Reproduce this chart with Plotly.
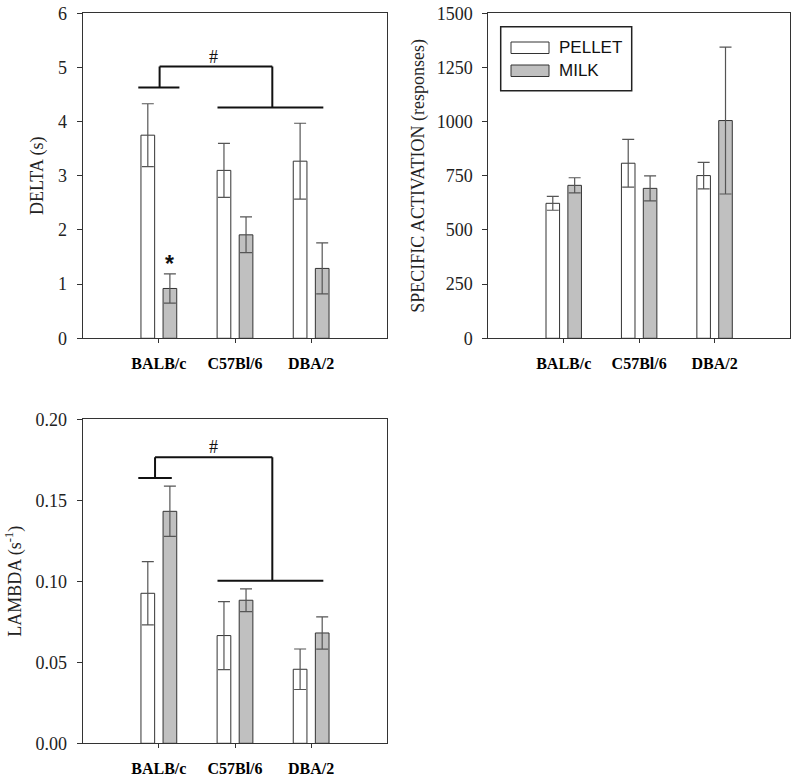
import plotly.graph_objects as go

W, H = 800, 782

strains = ["BALB/c", "C57Bl/6", "DBA/2"]
series_names = ["PELLET", "MILK"]

delta_pellet = [3.75, 3.10, 3.27]
delta_pellet_err = [0.58, 0.50, 0.70]
delta_milk = [0.92, 1.91, 1.29]
delta_milk_err = [0.27, 0.33, 0.47]

act_pellet = [623, 808, 751]
act_pellet_err = [32, 110, 61]
act_milk = [706, 692, 1005]
act_milk_err = [35, 58, 339]

lambda_pellet = [0.0926, 0.0665, 0.0457]
lambda_pellet_err = [0.0195, 0.021, 0.0125]
lambda_milk = [0.1432, 0.0883, 0.0681]
lambda_milk_err = [0.0155, 0.007, 0.010]

delta_ticks = [0, 1, 2, 3, 4, 5, 6]
act_ticks = [0, 250, 500, 750, 1000, 1250, 1500]
lambda_ticks = [0.0, 0.05, 0.10, 0.15, 0.20]

SERIF = "Liberation Serif, Times New Roman, serif"
SANS = "Liberation Sans, Arial, sans-serif"
GRAY = "#c0c0c0"
EDGE = "#333333"
ERRC = "#555555"


def px_x(p):
    return p / W


def px_y(p):
    return 1 - p / H


fig = go.Figure()

panels = [
    ("x", "y", delta_pellet, delta_pellet_err, delta_milk, delta_milk_err),
    ("x2", "y2", act_pellet, act_pellet_err, act_milk, act_milk_err),
    ("x3", "y3", lambda_pellet, lambda_pellet_err, lambda_milk, lambda_milk_err),
]
for xa, ya, pv, pe, mv, me in panels:
    fig.add_trace(go.Bar(
        x=strains, y=pv, name=series_names[0], xaxis=xa, yaxis=ya,
        marker=dict(color="white", line=dict(color=EDGE, width=1)),
        error_y=dict(type="data", array=pe, visible=True, color=ERRC, thickness=1.2, width=6),
        showlegend=False,
    ))
    fig.add_trace(go.Bar(
        x=strains, y=mv, name=series_names[1], xaxis=xa, yaxis=ya,
        marker=dict(color=GRAY, line=dict(color=EDGE, width=1)),
        error_y=dict(type="data", array=me, visible=True, color=ERRC, thickness=1.2, width=6),
        showlegend=False,
    ))

common = dict(showline=True, linecolor=EDGE, linewidth=1, mirror=True,
              showgrid=False, zeroline=False, ticks="outside", tickcolor=EDGE,
              automargin=False, ticklabeloverflow="allow")

xcommon = dict(common, type="category", range=[-1, 3], ticklen=4,
               tickfont=dict(family=SERIF, size=16, color="black", weight="bold"),
               ticklabelstandoff=6)

ycommon = dict(common, ticklen=5,
               tickfont=dict(family=SERIF, size=18, color="#222"),
               ticklabelstandoff=6)

dom_x_left = [px_x(82.7), px_x(387.3)]
dom_x_right = [px_x(488.3), px_x(790)]
dom_y_top = [px_y(338.3), px_y(13.3)]
dom_y_bot = [px_y(743.3), px_y(419.3)]

fig.update_layout(
    width=W, height=H,
    margin=dict(l=0, r=0, t=0, b=0),
    paper_bgcolor="white", plot_bgcolor="white",
    barmode="group", bargap=0.42, bargroupgap=0.38,
    showlegend=False,
    xaxis=dict(xcommon, domain=dom_x_left, anchor="y"),
    yaxis=dict(ycommon, domain=dom_y_top, anchor="x", range=[0, 6],
               tickvals=delta_ticks,
               title=dict(text="DELTA (s)", font=dict(family=SERIF, size=18, color="#222"), standoff=9)),
    xaxis2=dict(xcommon, domain=dom_x_right, anchor="y2"),
    yaxis2=dict(ycommon, domain=dom_y_top, anchor="x2", range=[0, 1500],
                tickvals=act_ticks,
                title=dict(text="SPECIFIC ACTIVATION (responses)", font=dict(family=SERIF, size=18, color="#222"), standoff=7)),
    xaxis3=dict(xcommon, domain=dom_x_left, anchor="y3"),
    yaxis3=dict(ycommon, domain=dom_y_bot, anchor="x3", range=[0, 0.20],
                tickvals=lambda_ticks, tickformat=".2f",
                title=dict(text="LAMBDA (s<sup>-1</sup>)", font=dict(family=SERIF, size=18, color="#222"), standoff=9)),
)


def bracket(xa, ya, left_y, left_x0, left_x1, left_mid, top_y, right_mid, right_y, right_x0, right_x1):
    segs = [
        (left_x0, left_y, left_x1, left_y),
        (left_mid, left_y, left_mid, top_y),
        (left_mid, top_y, right_mid, top_y),
        (right_mid, top_y, right_mid, right_y),
        (right_x0, right_y, right_x1, right_y),
    ]
    for x0, y0, x1, y1 in segs:
        fig.add_shape(type="line", xref=xa, yref=ya, x0=x0, y0=y0, x1=x1, y1=y1,
                      line=dict(color="#111", width=2))


bracket("x", "y", 4.63, -0.27, 0.27, 0.01, 5.02, 1.49, 4.26, 0.77, 2.16)
bracket("x3", "y3", 0.1638, -0.27, 0.17, -0.05, 0.1765, 1.49, 0.1004, 0.77, 2.16)

fig.add_annotation(x=0.72, y=5.2, xref="x", yref="y", text="#", showarrow=False,
                   font=dict(family=SERIF, size=18, color="#111"))
fig.add_annotation(x=0.72, y=0.1827, xref="x3", yref="y3", text="#", showarrow=False,
                   font=dict(family=SERIF, size=18, color="#111"))
fig.add_annotation(x=0.145, y=1.10, xref="x", yref="y", text="<b>*</b>", showarrow=False,
                   yanchor="bottom", font=dict(family=SANS, size=23, color="#111"))

# legend box (drawn manually to match wide swatches)
fig.add_shape(type="rect", xref="paper", yref="paper",
              x0=px_x(500.7), x1=px_x(631.7), y0=px_y(90.7), y1=px_y(26.7),
              line=dict(color="#222", width=1.5), fillcolor="white")
fig.add_shape(type="rect", xref="paper", yref="paper",
              x0=px_x(511), x1=px_x(549), y0=px_y(53.5), y1=px_y(42),
              line=dict(color=EDGE, width=1), fillcolor="white")
fig.add_shape(type="rect", xref="paper", yref="paper",
              x0=px_x(511), x1=px_x(549), y0=px_y(76.5), y1=px_y(65),
              line=dict(color=EDGE, width=1), fillcolor=GRAY)
fig.add_annotation(x=px_x(557), y=px_y(48), xref="paper", yref="paper", text=series_names[0],
                   showarrow=False, xanchor="left", yanchor="middle",
                   font=dict(family=SANS, size=17, color="#111"))
fig.add_annotation(x=px_x(557), y=px_y(71), xref="paper", yref="paper", text=series_names[1],
                   showarrow=False, xanchor="left", yanchor="middle",
                   font=dict(family=SANS, size=17, color="#111"))

# remove the default 8px page margin so the figure fills the window exactly
fig.write_html("out.html", config={"displayModeBar": False},
               post_script="document.body.style.margin='0';document.body.style.overflow='hidden';")
